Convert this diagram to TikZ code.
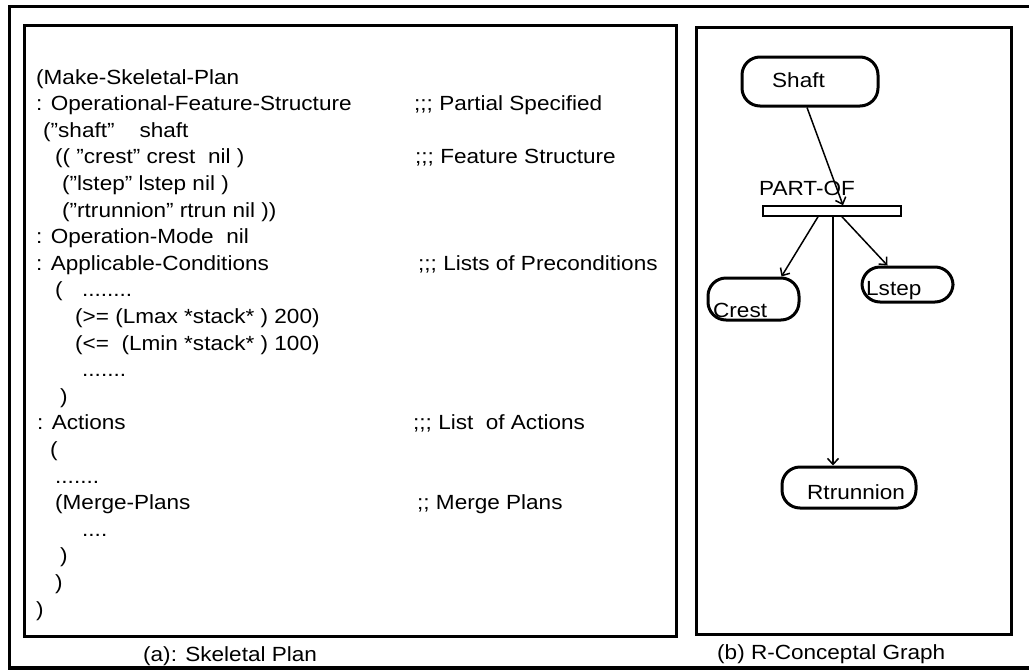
\documentclass[tikz,border=0pt]{standalone}
\usepackage{fontspec}
\setmainfont{Liberation Sans}[FakeStretch=1.1]
\usepackage{tikz}
\usetikzlibrary{arrows.meta}
\tikzstyle{sheet} = [x = 1pt, y = -1pt]
\tikzstyle{frameLine} = [line width=3.5pt]
\tikzstyle{panelStyle} = [line width=3pt]
\tikzstyle{codeText} = [anchor=west, inner sep=0pt, text height=14pt, text depth=0pt, font=\fontsize{20.5}{24}\selectfont]
\tikzstyle{conceptStyle} = [draw, line width=3pt, rounded corners=18pt, inner sep=0pt]
\tikzstyle{relationBar} = [draw, line width=1.5pt, inner sep=0pt]
\tikzstyle{relArrow} = [line width=1.5pt, -{Straight Barb[length=6pt, width=11pt]}]
\newcommand{\rowSkip}{26.6}
\newcommand{\dq}{\char34}
\newcommand{\codeLine}[4]{\node [codeText] (#1) at (#2, 77 + #3 * \rowSkip) {#4};}
\newcommand{\conceptNode}[5]{\node [conceptStyle, minimum width=#4pt, minimum height=#5pt] (#1) at (#2,#3) {};}

\begin{document}
\begin{tikzpicture}[sheet]
\useasboundingbox (0,0) rectangle (1029,670);
\clip (0,0) rectangle (1029,670);
% skeletal plan
\codeLine{planHead}{36}{0}{(Make-Skeletal-Plan}
\codeLine{featureKey}{36}{1}{: Operational-Feature-Structure}
\codeLine{shaftLine}{43}{2}{(\dq shaft\dq\hspace{18.7pt} shaft}
\codeLine{crestLine}{55}{3}{(( \dq crest\dq\ crest\ \ nil )}
\codeLine{lstepLine}{62}{4}{(\dq lstep\dq\ lstep nil )}
\codeLine{rtrunLine}{62}{5}{(\dq rtrunnion\dq\ rtrun nil ))}
\codeLine{modeLine}{36}{6}{: Operation-Mode\ \ nil}
\codeLine{condKey}{36}{7}{: Applicable-Conditions}
\codeLine{condOpen}{55}{8}{(\hspace{19.4pt}........}
\codeLine{maxLine}{75}{9}{(>= (Lmax *stack* ) 200)}
\codeLine{minLine}{75}{10}{(<=\ \ (Lmin *stack* ) 100)}
\codeLine{condDots}{82}{11}{.......}
\codeLine{condClose}{60}{12}{)}
\codeLine{actionKey}{37}{13}{: Actions}
\codeLine{actionOpen}{50}{14}{(}
\codeLine{actionDots}{55}{15}{.......}
\codeLine{mergeLine}{55}{16}{(Merge-Plans}
\codeLine{mergeDots}{82}{17}{....}
\codeLine{mergeClose}{60}{18}{)}
\codeLine{actionClose}{55}{19}{)}
\codeLine{planClose}{36}{20}{)}
% comments
\codeLine{partialNote}{414}{1}{;;; Partial Specified}
\codeLine{featureNote}{415}{3}{;;; Feature Structure}
\codeLine{precondNote}{418}{7}{;;; Lists of Preconditions}
\codeLine{actionNote}{413}{13}{;;; List\ \ of Actions}
\codeLine{mergeNote}{417}{16}{;; Merge Plans}
% conceptual graph
\conceptNode{shaft}{810}{81.5}{136}{49}
\conceptNode{crest}{753.5}{299}{91}{42}
\conceptNode{lstep}{907.5}{284.5}{91}{35}
\conceptNode{rtrunnion}{849}{487.5}{134}{41}
\node [codeText] (shaftText) at (772,80) {Shaft};
\node [codeText] (crestText) at (713,310) {Crest};
\node [codeText] (lstepText) at (866,288) {Lstep};
\node [codeText] (rtrunnionText) at (807,492) {Rtrunnion};
\node [relationBar, minimum width=138pt, minimum height=10pt] (partOf) at (832,211) {};
\node [codeText, anchor=center] (partOfText) at (807,188) {PART-OF};
\draw [relArrow] ([xshift=-3pt]shaft.south) -- ([xshift=11pt]partOf.north);
\draw [relArrow] ([xshift=-14pt]partOf.south) -- ([xshift=28pt]crest.north);
\draw [relArrow] ([xshift=10pt]partOf.south) -- ([xshift=-20pt]lstep.north);
\draw [relArrow] ([xshift=1pt]partOf.south) -- ([xshift=-16pt]rtrunnion.north);
% captions and frames
\node [codeText, anchor=base west] (captionA) at (143,661) {(a): Skeletal Plan};
\node [codeText, anchor=base west] (captionB) at (717,659) {(b) R-Conceptal Graph};
\draw [panelStyle] (24,25) rectangle (676,636);
\draw [panelStyle] (696,27) rectangle (1011,634);
\draw [frameLine] (8,6.5) -- (1029,6.5);
\draw [frameLine] (9.5,5) -- (9.5,669);
\draw [frameLine] (8,668) -- (1029,668);
\end{tikzpicture}
\end{document}
